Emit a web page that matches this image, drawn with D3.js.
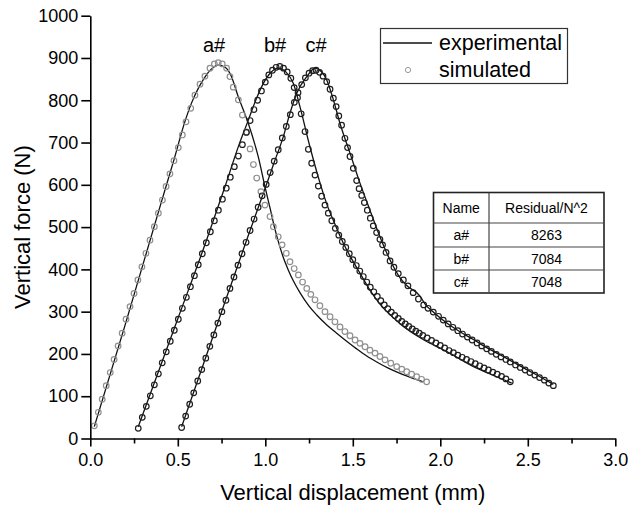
<!DOCTYPE html>
<html>
<head>
<meta charset="utf-8">
<script src="https://cdn.jsdelivr.net/npm/d3@7"></script>
<style>
  html, body { margin: 0; padding: 0; background: #fff; }
  svg { display: block; font-family: "Liberation Sans", Arial, sans-serif; }
</style>
</head>
<body>
<svg id="chart" width="628" height="508"></svg>
<script>
// ---------- data ----------
const xTicks = [0, 0.5, 1.0, 1.5, 2.0, 2.5, 3.0];
const xMinorTicks = [0.25, 0.75, 1.25, 1.75, 2.25, 2.75];
const yTicks = [0, 100, 200, 300, 400, 500, 600, 700, 800, 900, 1000];

const curveNames = ["a#", "b#", "c#"];
const residuals = [8263, 7084, 7048];
const legendLabels = ["experimental", "simulated"];
const tableHeader = ["Name", "Residual/N^2"];

// experimental curves [displacement mm, force N]
const expA = [[0.023,28],[0.2,270],[0.408,562],[0.48,662],[0.541,750],[0.58,795],[0.617,828],[0.65,852],[0.69,873],[0.731,883],[0.77,878],[0.80,862],[0.846,808],[0.903,745],[0.96,666],[1.0,592],[1.03,540],[1.055,495],[1.08,458],[1.103,428],[1.13,400],[1.16,373],[1.198,345],[1.25,313],[1.294,292],[1.35,269],[1.408,249],[1.465,230],[1.522,212],[1.58,195],[1.637,181],[1.70,167],[1.77,154],[1.84,143],[1.903,134]];
const expB = [[0.274,28],[0.5,283],[0.665,470],[0.77,596],[0.85,695],[0.903,753],[0.95,805],[0.989,840],[1.03,865],[1.074,876],[1.12,866],[1.16,840],[1.198,785],[1.255,690],[1.313,604],[1.351,555],[1.40,505],[1.446,462],[1.50,420],[1.541,391],[1.598,351],[1.655,318],[1.72,290],[1.78,268],[1.89,237],[2.04,205],[2.19,170],[2.322,146],[2.408,131]];
const expC = [[0.522,28],[0.7,240],[0.894,470],[0.989,580],[1.05,652],[1.103,714],[1.14,768],[1.179,816],[1.237,856],[1.284,876],[1.32,868],[1.351,848],[1.389,801],[1.427,745],[1.484,675],[1.541,604],[1.598,540],[1.655,477],[1.713,422],[1.77,380],[1.808,362],[1.884,337],[1.913,318],[1.96,299],[2.037,273],[2.11,253],[2.189,234],[2.26,216],[2.341,198],[2.42,180],[2.494,163],[2.57,146],[2.646,128]];

// simulated curves [displacement mm, force N]
const simA = [[0.023,30],[0.046,62],[0.068,93],[0.091,125],[0.114,156],[0.136,187],[0.159,219],[0.182,249],[0.204,282],[0.227,312],[0.25,343],[0.272,375],[0.295,406],[0.318,438],[0.341,469],[0.366,501],[0.389,533],[0.412,564],[0.433,596],[0.455,626],[0.478,657],[0.503,688],[0.526,718],[0.547,749],[0.574,781],[0.598,812],[0.627,838],[0.655,857],[0.684,876],[0.709,886],[0.731,889],[0.754,886],[0.779,876],[0.798,856],[0.817,831],[0.846,801],[0.869,765],[0.892,725],[0.913,685],[0.932,648],[0.951,616],[0.975,584],[0.998,552],[1.027,525],[1.046,501],[1.074,477],[1.096,458],[1.12,438],[1.141,418],[1.165,402],[1.189,387],[1.213,370],[1.237,355],[1.26,341],[1.284,328],[1.312,314],[1.341,300],[1.37,288],[1.398,276],[1.427,264],[1.455,253],[1.484,243],[1.513,233],[1.541,225],[1.570,217],[1.598,209],[1.627,202],[1.655,194],[1.684,186],[1.717,178],[1.751,170],[1.78,164],[1.808,158],[1.836,152],[1.865,146],[1.893,140],[1.922,134]];
const simB = [[0.274,24],[0.297,50],[0.320,76],[0.343,101],[0.366,127],[0.389,153],[0.411,179],[0.434,205],[0.457,230],[0.480,256],[0.503,282],[0.526,308],[0.549,334],[0.572,359],[0.595,385],[0.617,411],[0.640,437],[0.663,463],[0.686,489],[0.709,515],[0.732,540],[0.755,566],[0.777,592],[0.80,618],[0.823,643],[0.846,668],[0.869,695],[0.892,724],[0.913,752],[0.935,778],[0.956,800],[0.978,822],[1.0,843],[1.02,860],[1.041,871],[1.062,878],[1.083,880],[1.104,876],[1.125,867],[1.146,852],[1.165,830],[1.184,806],[1.205,768],[1.227,726],[1.246,684],[1.265,651],[1.284,623],[1.303,597],[1.322,573],[1.341,552],[1.36,533],[1.38,515],[1.40,497],[1.42,481],[1.44,466],[1.46,452],[1.48,437],[1.50,423],[1.52,409],[1.54,396],[1.56,383],[1.58,370],[1.60,358],[1.62,347],[1.64,336],[1.66,326],[1.68,316],[1.70,307],[1.72,299],[1.74,291],[1.76,284],[1.78,277],[1.80,271],[1.82,265],[1.84,259],[1.86,254],[1.88,249],[1.90,244],[1.925,238],[1.95,232],[1.975,226],[2.0,220],[2.025,214],[2.05,208],[2.075,203],[2.10,197],[2.125,192],[2.15,187],[2.175,182],[2.20,177],[2.225,172],[2.25,167],[2.275,162],[2.30,157],[2.325,152],[2.35,147],[2.375,141],[2.40,134]];
const simC = [[0.522,26],[0.545,53],[0.568,81],[0.591,108],[0.614,136],[0.637,163],[0.660,190],[0.683,218],[0.706,245],[0.729,273],[0.752,300],[0.775,327],[0.798,355],[0.821,382],[0.844,410],[0.867,437],[0.890,464],[0.913,492],[0.936,519],[0.959,547],[0.982,574],[1.005,601],[1.028,629],[1.051,656],[1.074,683],[1.097,711],[1.12,738],[1.143,766],[1.166,795],[1.187,818],[1.208,837],[1.229,853],[1.25,864],[1.27,870],[1.29,871],[1.31,866],[1.33,857],[1.351,844],[1.37,826],[1.389,805],[1.405,785],[1.42,763],[1.436,741],[1.455,710],[1.47,688],[1.484,667],[1.503,639],[1.522,610],[1.536,591],[1.551,575],[1.566,558],[1.583,540],[1.60,521],[1.617,503],[1.636,487],[1.655,471],[1.67,458],[1.69,440],[1.713,420],[1.735,405],[1.76,390],[1.789,375],[1.815,361],[1.845,345],[1.875,330],[1.905,316],[1.93,308],[1.96,299],[1.99,289],[2.017,280],[2.045,271],[2.072,263],[2.10,255],[2.127,247],[2.155,240],[2.182,233],[2.21,226],[2.237,219],[2.265,212],[2.292,206],[2.32,199],[2.347,193],[2.375,187],[2.40,181],[2.43,174],[2.457,168],[2.485,162],[2.512,156],[2.54,150],[2.567,144],[2.595,138],[2.62,131],[2.646,125]];

// ---------- chart ----------
const svg = d3.select("#chart");
const x = d3.scaleLinear().domain([0, 3]).range([90.3, 615.3]);
const y = d3.scaleLinear().domain([0, 1000]).range([438.5, 15.7]);

const line = d3.line().x(d => x(d[0])).y(d => y(d[1])).curve(d3.curveMonotoneX);

const series = [
  { exp: expA, sim: simA, color: "#8f8f8f" },
  { exp: expB, sim: simB, color: "#1e1e1e" },
  { exp: expC, sim: simC, color: "#1e1e1e" }
];

series.forEach(s => {
  svg.append("path").datum(s.exp).attr("d", line)
    .attr("fill", "none").attr("stroke", "#111").attr("stroke-width", 1.3);
});
series.forEach(s => {
  svg.append("g").selectAll("circle").data(s.sim).join("circle")
    .attr("cx", d => x(d[0])).attr("cy", d => y(d[1])).attr("r", 2.8)
    .attr("fill", "none").attr("stroke", s.color).attr("stroke-width", 1.2);
});

// axes
svg.append("g").attr("transform", `translate(0,${y(0)})`)
  .call(d3.axisBottom(x).tickValues(xTicks).tickFormat(d3.format(".1f"))
    .tickSize(8).tickPadding(7).tickSizeOuter(0));
svg.append("g").attr("transform", `translate(0,${y(0)})`)
  .call(d3.axisBottom(x).tickValues(xMinorTicks).tickFormat("").tickSize(5).tickSizeOuter(0))
  .select(".domain").remove();
svg.append("g").attr("transform", `translate(${x(0)},0)`)
  .call(d3.axisLeft(y).tickValues(yTicks).tickFormat(d3.format("d"))
    .tickSize(9).tickPadding(3).tickSizeOuter(0));
svg.selectAll(".tick text").attr("font-size", 18).attr("font-family", "Liberation Sans, Arial, sans-serif").attr("fill", "#000");
svg.selectAll(".domain, .tick line").attr("stroke", "#000").attr("stroke-width", 1.6);

// axis titles
svg.append("text").attr("x", (x(0) + x(3)) / 2).attr("y", 500)
  .attr("text-anchor", "middle").attr("font-size", 22).text("Vertical displacement (mm)");
svg.append("text").attr("transform", `translate(30,${(y(0) + y(1000)) / 2}) rotate(-90)`)
  .attr("text-anchor", "middle").attr("font-size", 22).text("Vertical force (N)");

// curve labels
const labelX = [214, 275, 316];
curveNames.forEach((n, i) => {
  svg.append("text").attr("x", labelX[i]).attr("y", 52).attr("text-anchor", "middle")
    .attr("font-size", 20).text(n);
});

// legend
const lg = svg.append("g");
lg.append("rect").attr("x", 380.5).attr("y", 28.5).attr("width", 187).attr("height", 55)
  .attr("fill", "#fff").attr("stroke", "#333").attr("stroke-width", 1.2);
lg.append("line").attr("x1", 383).attr("x2", 432).attr("y1", 43).attr("y2", 43)
  .attr("stroke", "#111").attr("stroke-width", 1.3);
lg.append("circle").attr("cx", 408).attr("cy", 70).attr("r", 2.6)
  .attr("fill", "none").attr("stroke", "#999").attr("stroke-width", 1);
lg.append("text").attr("x", 439).attr("y", 50).attr("font-size", 21.5).text(legendLabels[0]);
lg.append("text").attr("x", 439).attr("y", 77).attr("font-size", 21.5).text(legendLabels[1]);

// table
const tb = svg.append("g");
const tx0 = 433.5, tx1 = 489, tx2 = 604, rowsY = [192.5, 223, 247, 270, 293];
tb.append("rect").attr("x", tx0).attr("y", rowsY[0]).attr("width", tx2 - tx0).attr("height", rowsY[4] - rowsY[0])
  .attr("fill", "#fff").attr("stroke", "#222").attr("stroke-width", 1.6);
tb.append("line").attr("x1", tx1).attr("x2", tx1).attr("y1", rowsY[0]).attr("y2", rowsY[4])
  .attr("stroke", "#444").attr("stroke-width", 1.2);
[1, 2, 3].forEach(i => {
  tb.append("line").attr("x1", tx0).attr("x2", tx2).attr("y1", rowsY[i]).attr("y2", rowsY[i])
    .attr("stroke", "#444").attr("stroke-width", 1.2);
});
const cell = (cx, cy, t) => tb.append("text").attr("x", cx).attr("y", cy)
  .attr("text-anchor", "middle").attr("dominant-baseline", "central").attr("font-size", 14).text(t);
cell((tx0 + tx1) / 2, (rowsY[0] + rowsY[1]) / 2, tableHeader[0]);
cell((tx1 + tx2) / 2, (rowsY[0] + rowsY[1]) / 2, tableHeader[1]);
curveNames.forEach((n, i) => {
  cell((tx0 + tx1) / 2, (rowsY[i + 1] + rowsY[i + 2]) / 2, n);
  cell((tx1 + tx2) / 2, (rowsY[i + 1] + rowsY[i + 2]) / 2, String(residuals[i]));
});
</script>
</body>
</html>
